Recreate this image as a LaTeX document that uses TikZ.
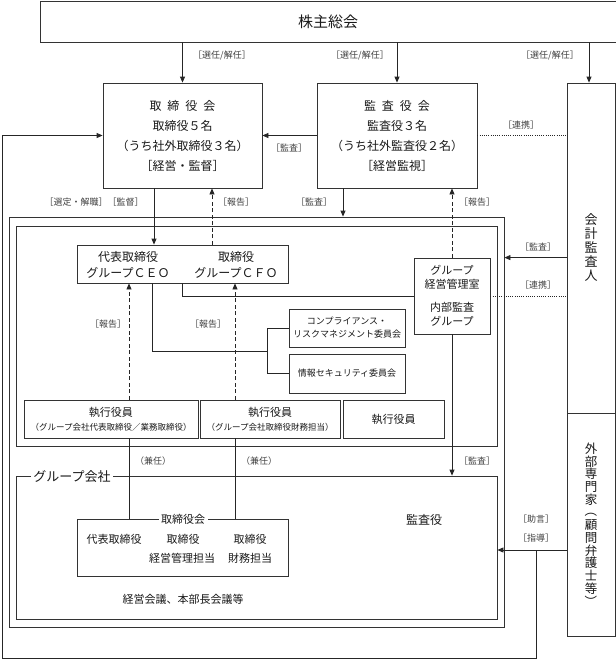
\documentclass[tikz,border=0pt]{standalone}
\usepackage{fontspec}
\usepackage{graphicx}
\setmainfont{Noto Sans CJK JP}
\usetikzlibrary{arrows.meta}
\newcommand{\fs}[2]{\fontsize{#1}{#2}\selectfont}
\newcommand{\vparo}{\smash{\raisebox{0.15em}{\rotatebox[origin=c]{-90}{（}}}}
\newcommand{\vparc}{\smash{\raisebox{-0.05em}{\rotatebox[origin=c]{-90}{）}}}}
\begin{document}
\begin{tikzpicture}[x=1pt,y=-1pt,
  every node/.style={text=black!90},
  bx/.style={draw=black!80, line width=0.8pt, inner sep=0pt},
  ln/.style={draw=black!85, line width=0.8pt},
  arr/.style={ln, -{Triangle[length=6pt,width=5pt]}},
  dsh/.style={dash pattern=on 4pt off 2.5pt},
  dtt/.style={dash pattern=on 1pt off 1.2pt},
  lab/.style={font=\fs{9}{11}, text=black!75, inner sep=1pt},
  ttl/.style={fill=white, inner sep=2.5pt}
]
\useasboundingbox (0,0) rectangle (616,659);

% containers
\node[bx, minimum width=495pt, minimum height=410pt] (outer) at (256.5,422) {};
\node[bx, minimum width=481pt, minimum height=220pt] (inner) at (256.5,336) {};
\node[bx, minimum width=481pt, minimum height=143pt] (gc) at (256.5,547.5) {};
\node[ttl, font=\fs{13}{15}] (gct) at (72,476.5) {グループ会社};

% top
\node[bx, minimum width=576pt, minimum height=41pt, font=\fs{15}{17}] (sh) at (328,21.5) {株主総会};
\node[bx, minimum width=159pt, minimum height=105pt, align=center, font=\fs{12}{20}] (bod) at (182.5,135.5)
  {取\hspace{0.5em}締\hspace{0.5em}役\hspace{0.5em}会\\取締役５名\\（うち社外取締役３名）\\［経営・監督］};
\node[bx, minimum width=160pt, minimum height=105pt, align=center, font=\fs{12}{20}] (kan) at (397,135.5)
  {監\hspace{0.5em}査\hspace{0.5em}役\hspace{0.5em}会\\監査役３名\\（うち社外監査役２名）\\［経営監視］};

% right column
\node[bx, minimum width=48pt, minimum height=330pt, align=center, font=\fs{13}{14}] (acc) at (591,248)
  {会\\計\\監\\査\\人};
\node[bx, minimum width=48pt, minimum height=223pt, align=center, font=\fs{12.5}{12.7}] (ext) at (591,524.5)
  {外\\部\\専\\門\\家\\\vparo\\顧\\問\\弁\\護\\士\\等\\\vparc};

% CEO / CFO
\node[bx, minimum width=211pt, minimum height=38pt] (ceo) at (182.5,264) {};
\node[font=\fs{12}{14}] (ceo1) at (128,257) {代表取締役};
\node[font=\fs{12}{14}] (ceo2) at (128,272.5) {グループＣＥＯ};
\node[font=\fs{12}{14}] (cfo1) at (236,257) {取締役};
\node[font=\fs{12}{14}] (cfo2) at (236,272.5) {グループＣＦＯ};

% group management office
\node[bx, minimum width=76pt, minimum height=76pt, align=center, font=\fs{11}{14}] (grp) at (452,296)
  {グループ\\経営管理室\\[9pt]内部監査\\グループ};

% committees
\node[bx, minimum width=116pt, minimum height=38pt, align=center, font=\fs{9}{13}] (comp) at (347,328)
  {コンプライアンス・\\リスクマネジメント委員会};
\node[bx, minimum width=116pt, minimum height=39pt, font=\fs{9}{11}] (info) at (347,373.5)
  {情報セキュリティ委員会};

% executive officers
\node[bx, minimum width=174pt, minimum height=38pt, align=center, font=\fs{8.5}{14}] (ex1) at (111,419)
  {{\fs{11}{14}執行役員}\\（グループ会社代表取締役／業務取締役）};
\node[bx, minimum width=140pt, minimum height=38pt, align=center, font=\fs{8.5}{14}] (ex2) at (270,419)
  {{\fs{11}{14}執行役員}\\（グループ会社取締役財務担当）};
\node[bx, minimum width=101pt, minimum height=38pt, font=\fs{11}{13}] (ex3) at (393.5,419) {執行役員};

% group company board
\node[bx, minimum width=211pt, minimum height=57pt] (gbod) at (182.5,547.5) {};
\node[ttl, font=\fs{11}{13}] (gbt) at (183,519) {取締役会};
\node[font=\fs{11}{13}] (g1) at (114,539) {代表取締役};
\node[font=\fs{11}{13}] (g2) at (183,539) {取締役};
\node[font=\fs{11}{13}] (g3) at (250,539) {取締役};
\node[font=\fs{11}{13}] (g4) at (182,558) {経営管理担当};
\node[font=\fs{11}{13}] (g5) at (250,558) {財務担当};
\node[font=\fs{12}{14}] (gkan) at (424,520) {監査役};
\node[font=\fs{11}{13}] (gmeet) at (183,599) {経営会議、本部長会議等};

% helper coordinates
\coordinate (jn) at (267,351);
\coordinate (adv) at (536,550);
\coordinate (fb) at (2,658);

% connectors from shareholders
\draw[arr] (bod.north |- sh.south) -- (bod.north);
\draw[arr] (kan.north |- sh.south) -- (kan.north);
\draw[arr] ([xshift=-2pt]acc.north |- sh.south) -- ([xshift=-2pt]acc.north);
\node[lab] (l1) at (222,55) {［選任/解任］};
\node[lab] (l2) at (360,55) {［選任/解任］};
\node[lab] (l3) at (550,55) {［選任/解任］};

% between boards
\draw[arr] (kan.west) -- (bod.east);
\node[lab] (l4) at (289,148) {［監査］};
\draw[ln, dtt] (kan.east) -- (acc.west |- kan.east);
\node[lab] (l5) at (521,125) {［連携］};

% board to CEO
\draw[arr] ([xshift=-28.5pt]bod.south) -- ([xshift=-28.5pt]bod.south |- ceo.north);
\draw[arr, dsh] ([xshift=29.5pt]bod.south |- ceo.north) -- ([xshift=29.5pt]bod.south);
\node[lab] (l6) at (94,202) {［選定・解職］［監督］};
\node[lab] (l7) at (236,202) {［報告］};

% audit board
\draw[arr] ([xshift=-54pt]kan.south) -- ([xshift=-54pt]kan.south |- outer.north);
\draw[arr, dsh] (grp.north) -- (grp.north |- kan.south);
\node[lab] (l8) at (314,202) {［監査］};
\node[lab] (l9) at (477,202) {［報告］};

% accounting auditor
\draw[arr] (acc.west |- grp.north) -- (outer.east |- grp.north);
\node[lab] (l10) at (538,247) {［監査］};
\draw[ln, dtt] (grp.east) -- (acc.west |- grp.east);
\node[lab] (l11) at (538,285) {［連携］};

% CEO to group office and committees
\draw[ln] (ceo.south) |- (grp.west);
\draw[ln] ([xshift=-30.5pt]ceo.south) |- (jn);
\draw[ln] (jn |- comp.west) -- (jn |- info.west);
\draw[ln] (jn |- comp.west) -- (comp.west);
\draw[ln] (jn |- info.west) -- (info.west);

% reports from executive officers
\draw[arr, dsh] ([xshift=-53.5pt]ceo.south |- ex1.north) -- ([xshift=-53.5pt]ceo.south);
\draw[arr, dsh] ([xshift=52.5pt]ceo.south |- ex2.north) -- ([xshift=52.5pt]ceo.south);
\node[lab] (l12) at (108,324) {［報告］};
\node[lab] (l13) at (208,324) {［報告］};

% concurrent posts
\draw[ln] ([xshift=-53.5pt]gbod.north |- ex1.south) -- ([xshift=-53.5pt]gbod.north);
\draw[ln] ([xshift=52.5pt]gbod.north |- ex2.south) -- ([xshift=52.5pt]gbod.north);
\node[lab] (l14) at (153,461) {（兼任）};
\node[lab] (l15) at (259,461) {（兼任）};

% internal audit to group companies
\draw[arr] (grp.south) -- (grp.south |- gc.north);
\node[lab] (l16) at (477,461) {［監査］};

% external experts
\draw[arr] (ext.west |- adv) -- (gc.east |- adv);
\node[lab] (l17) at (536,519) {［助言］};
\node[lab] (l18) at (536,538) {［指導］};
\draw[arr] (adv) |- (fb) |- (bod.west);
\end{tikzpicture}
\end{document}
